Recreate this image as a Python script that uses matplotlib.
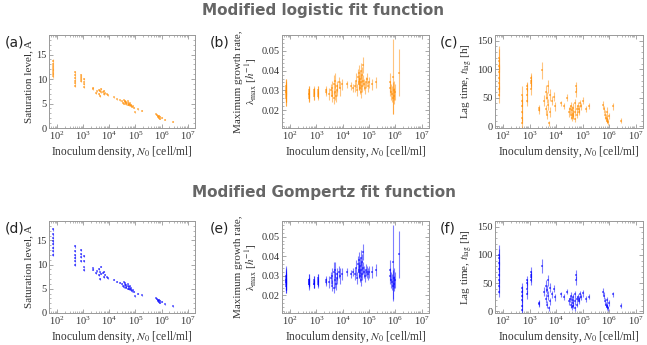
import numpy as np
import matplotlib
matplotlib.use("Agg")
import matplotlib.pyplot as plt
from matplotlib.ticker import AutoMinorLocator, LogLocator, NullFormatter

plt.rcParams['font.family'] = ['Liberation Serif', 'DejaVu Serif']
plt.rcParams['mathtext.fontset'] = 'stix'

# inoculum densities (shared by all panels)
N0 = [70, 70, 70, 70, 70, 70, 70, 70,
      500, 500, 500, 500, 500, 500,
      800, 800, 800, 800,
      1100, 1100, 1100, 1100,
      2300, 2300,
      3000, 3500, 4000, 4000, 4500, 4500, 5000, 5000, 5500, 6000, 6000, 7000, 8000, 9000,
      15000, 20000, 25000,
      30000, 32000, 35000, 37000, 40000, 40000, 42000, 45000, 45000, 50000, 50000,
      50000, 55000, 55000, 60000, 60000, 65000, 70000, 75000, 80000, 90000, 100000,
      130000, 180000,
      600000, 650000, 700000, 750000, 800000, 800000, 850000, 900000, 1000000,
      1400000, 2700000]

# modified logistic
A_log = [10.6, 11.0, 11.4, 11.8, 12.2, 12.6, 13.1, 13.7,
         8.6, 9.2, 9.7, 10.2, 10.8, 11.4,
         9.6, 10.0, 10.4, 10.8,
         8.3, 8.9, 9.5, 10.0,
         7.9, 8.2,
         7.2, 7.5, 7.8, 7.0, 7.6, 6.6, 7.9, 7.3, 7.4, 6.9, 7.6, 7.1, 6.9, 6.7,
         6.3, 5.9, 5.7,
         5.5, 5.2, 5.7, 5.0, 5.4, 5.6, 5.1, 5.3, 4.9, 5.5, 5.2,
         4.8, 5.0, 4.6, 5.1, 4.7, 4.5, 4.8, 4.3, 4.4, 4.1, 3.2,
         3.8, 3.5,
         2.8, 2.6, 2.4, 2.2, 2.0, 2.5, 2.3, 1.9, 2.1,
         1.7, 1.3]
A_log_err = [0.3, 0.2, 0.3, 0.2, 0.3, 0.2, 0.3, 0.3,
             0.3, 0.2, 0.3, 0.2, 0.3, 0.3,
             0.2, 0.2, 0.2, 0.2,
             0.2, 0.2, 0.2, 0.2,
             0.1, 0.1,
             0.2, 0.1, 0.2, 0.2, 0.1, 0.2, 0.2, 0.1, 0.1, 0.2, 0.1, 0.1, 0.1, 0.1,
             0.1, 0.1, 0.1,
             0.1, 0.1, 0.1, 0.1, 0.1, 0.1, 0.1, 0.1, 0.1, 0.1, 0.1,
             0.1, 0.1, 0.1, 0.1, 0.1, 0.1, 0.1, 0.1, 0.1, 0.1, 0.1,
             0.1, 0.1,
             0.1, 0.1, 0.1, 0.1, 0.1, 0.1, 0.1, 0.1, 0.1,
             0.1, 0.1]
lam_log = [0.026, 0.027, 0.028, 0.029, 0.030, 0.031, 0.032, 0.029,
           0.027, 0.028, 0.029, 0.030, 0.026, 0.028,
           0.027, 0.028, 0.029, 0.030,
           0.027, 0.028, 0.029, 0.030,
           0.029, 0.030,
           0.028, 0.030, 0.027, 0.031, 0.026, 0.033, 0.029, 0.035, 0.027, 0.032, 0.030, 0.034, 0.031, 0.033,
           0.033, 0.032, 0.031,
           0.032, 0.035, 0.030, 0.037, 0.033, 0.039, 0.034, 0.031, 0.036, 0.040, 0.029,
           0.034, 0.038, 0.032, 0.043, 0.035, 0.033, 0.031, 0.034, 0.036, 0.032, 0.034,
           0.033, 0.034,
           0.031, 0.034, 0.029, 0.028, 0.037, 0.026, 0.030, 0.027, 0.029,
           0.039, np.nan]
lam_log_err = [0.004, 0.003, 0.004, 0.005, 0.003, 0.004, 0.004, 0.007,
               0.003, 0.002, 0.003, 0.002, 0.002, 0.003,
               0.002, 0.003, 0.002, 0.002,
               0.002, 0.002, 0.003, 0.002,
               0.002, 0.002,
               0.003, 0.003, 0.003, 0.004, 0.003, 0.005, 0.004, 0.004, 0.003, 0.003, 0.003, 0.003, 0.004, 0.003,
               0.002, 0.002, 0.002,
               0.003, 0.004, 0.003, 0.004, 0.003, 0.004, 0.004, 0.003, 0.004, 0.004, 0.003,
               0.004, 0.004, 0.003, 0.004, 0.003, 0.003, 0.003, 0.003, 0.003, 0.003, 0.003,
               0.003, 0.003,
               0.004, 0.005, 0.004, 0.004, 0.019, 0.008, 0.005, 0.004, 0.004,
               0.012, 0.0]
lag_log = [55, 65, 75, 85, 95, 105, 115, 120,
           5, 15, 25, 35, 45, 55,
           45, 55, 65, 70,
           65, 75, 80, 85,
           28, 32,
           98, 45, 30, 60, 20, 50, 38, 70, 5, 55, 25, 45, 52, 35,
           40, 35, 50,
           25, 30, 20, 35, 15, 28, 22, 32, 18, 40, 12,
           25, 70, 60, 30, 20, 35, 25, 30, 40, 35, 45,
           30, 35,
           38, 30, 20, 15, 10, 25, 12, 8, 18,
           35, 10]
lag_log_err = [15, 12, 15, 20, 15, 15, 20, 20,
               10, 10, 15, 12, 10, 15,
               10, 12, 10, 8,
               10, 8, 10, 8,
               6, 5,
               15, 10, 8, 12, 8, 10, 10, 12, 4, 10, 8, 8, 8, 8,
               5, 5, 6,
               8, 8, 7, 8, 6, 8, 7, 8, 6, 8, 5,
               7, 8, 8, 7, 6, 7, 6, 7, 6, 6, 6,
               5, 5,
               6, 6, 8, 6, 5, 8, 6, 5, 6,
               6, 5]

# modified Gompertz
A_gom = [12.0, 12.8, 13.5, 14.2, 14.8, 15.5, 16.3, 17.3,
         10.0, 10.7, 11.4, 12.0, 12.8, 13.8,
         10.8, 11.5, 12.2, 13.0,
         8.8, 9.4, 10.8, 11.8,
         8.9, 9.2,
         8.2, 8.6, 9.0, 7.8, 8.4, 7.0, 9.6, 8.1, 8.3, 7.5, 8.5, 7.9, 7.4, 7.2,
         6.9, 6.5, 6.2,
         6.0, 5.6, 6.3, 5.3, 5.8, 6.1, 5.4, 5.7, 5.2, 5.9, 5.5,
         5.0, 5.4, 4.9, 5.5, 5.0, 4.8, 5.1, 4.5, 4.7, 4.4, 3.5,
         4.0, 3.7,
         3.0, 2.8, 2.6, 2.4, 2.2, 2.7, 2.5, 2.1, 2.3,
         1.8, 1.4]
A_gom_err = A_log_err
lam_gom = [0.025, 0.026, 0.027, 0.028, 0.029, 0.030, 0.027, 0.028,
           0.026, 0.027, 0.028, 0.026, 0.027, 0.028,
           0.026, 0.027, 0.028, 0.026,
           0.026, 0.027, 0.028, 0.029,
           0.028, 0.027,
           0.027, 0.029, 0.025, 0.030, 0.024, 0.032, 0.028, 0.033, 0.026, 0.031, 0.029, 0.032, 0.030, 0.031,
           0.032, 0.031, 0.032,
           0.031, 0.034, 0.029, 0.036, 0.032, 0.038, 0.033, 0.030, 0.035, 0.039, 0.028,
           0.033, 0.037, 0.031, 0.042, 0.034, 0.032, 0.030, 0.033, 0.032, 0.031, 0.032,
           0.032, 0.033,
           0.030, 0.033, 0.028, 0.027, 0.037, 0.025, 0.029, 0.026, 0.028,
           0.041, np.nan]
lam_gom_err = lam_log_err
lag_gom = [35, 45, 55, 65, 75, 85, 95, 100,
           3, 10, 20, 28, 35, 42,
           30, 40, 50, 55,
           55, 60, 65, 70,
           13, 15,
           80, 35, 22, 45, 12, 38, 28, 55, 5, 42, 18, 30, 40, 25,
           30, 25, 35,
           18, 22, 12, 28, 8, 20, 15, 25, 10, 30, 5,
           18, 65, 55, 22, 12, 25, 18, 22, 30, 25, 32,
           22, 26,
           35, 28, 18, 12, 8, 20, 10, 5, 15,
           30, 10]
lag_gom_err = [10, 12, 12, 15, 12, 15, 15, 18,
               8, 10, 10, 12, 10, 8,
               8, 10, 8, 8,
               8, 8, 6, 8,
               5, 5,
               12, 8, 8, 10, 6, 8, 8, 10, 4, 8, 6, 6, 6, 6,
               5, 5, 5,
               6, 6, 6, 6, 5, 6, 6, 6, 5, 6, 4,
               6, 8, 8, 6, 5, 6, 5, 6, 6, 5, 6,
               5, 5,
               6, 6, 6, 5, 5, 6, 5, 4, 5,
               5, 5]

ORANGE = '#ff8c00'
BLUE = '#0000ff'

fig = plt.figure(figsize=(6.47, 3.45), dpi=100)
W, H = 647.0, 345.0


def make_ax(x0, x1, y0, y1):
    return fig.add_axes([x0 / W, 1 - y1 / H, (x1 - x0) / W, (y1 - y0) / H])


rows = [
    (35, 128, ORANGE, [(A_log, A_log_err), (lam_log, lam_log_err), (lag_log, lag_log_err)], '(a)', '(b)', '(c)'),
    (221, 313, BLUE, [(A_gom, A_gom_err), (lam_gom, lam_gom_err), (lag_gom, lag_gom_err)], '(d)', '(e)', '(f)'),
]
cols = [(49, 195), (282, 429), (495, 643)]
ylabels = ['Saturation level, A',
           'Maximum growth rate,\n$\\mathrm{\\lambda}_{\\mathrm{max}}$ [$h^{-1}$]',
           'Lag time, $t_{\\mathrm{lag}}$ [h]']
ylims = [(0, 19), (0.011, 0.058), (-3, 160)]
yticks = [[0, 5, 10, 15], [0.02, 0.03, 0.04, 0.05], [0, 50, 100, 150]]
label_x = [5, 210, 440]

for y0, y1, color, series, *labels in rows:
    for j, ((vals, errs), (x0, x1)) in enumerate(zip(series, cols)):
        ax = make_ax(x0, x1, y0, y1)
        ax.errorbar(N0, vals, yerr=errs, fmt='s', ms=1.5, mew=0, color=color,
                    alpha=0.5, elinewidth=0.8, capsize=0.9, capthick=0.6)
        ax.set_xscale('log')
        ax.set_xlim(49, 1.9e7)
        ax.set_ylim(*ylims[j])
        ax.set_yticks(yticks[j])
        if j == 1:
            ax.set_yticklabels(['0.02', '0.03', '0.04', '0.05'])
        ax.yaxis.set_minor_locator(AutoMinorLocator(5))
        ax.xaxis.set_major_locator(LogLocator(base=10, numticks=12))
        ax.xaxis.set_minor_locator(LogLocator(base=10, subs=np.arange(2, 10), numticks=12))
        ax.xaxis.set_minor_formatter(NullFormatter())
        ax.tick_params(which='both', direction='in', top=True, right=True,
                       color='#999999', labelsize=7.5, labelcolor='#333333', pad=1.5)
        ax.tick_params(which='major', length=3, width=0.6)
        ax.tick_params(which='minor', length=1.6, width=0.5)
        for s in ax.spines.values():
            s.set_color('#999999')
            s.set_linewidth(0.7)
        ax.set_xlabel('Inoculum density, $N_0$ [cell/ml]', fontsize=8.3,
                      color='#333333', labelpad=1)
        ax.set_ylabel(ylabels[j], fontsize=8.0, color='#333333', labelpad=2,
                      linespacing=1.0)
        fig.text(label_x[j] / W, 1 - (y0 + 8) / H, labels[j], fontsize=10,
                 family='DejaVu Sans', ha='left', va='center', color='#222222')

fig.text(0.5, 1 - 11 / H, 'Modified logistic fit function', ha='center', va='center',
         fontsize=11, fontweight='bold', family='DejaVu Sans', color='#666666')
fig.text(0.5, 1 - 192 / H, 'Modified Gompertz fit function', ha='center', va='center',
         fontsize=11, fontweight='bold', family='DejaVu Sans', color='#666666')

fig.savefig('out.png', dpi=100)
